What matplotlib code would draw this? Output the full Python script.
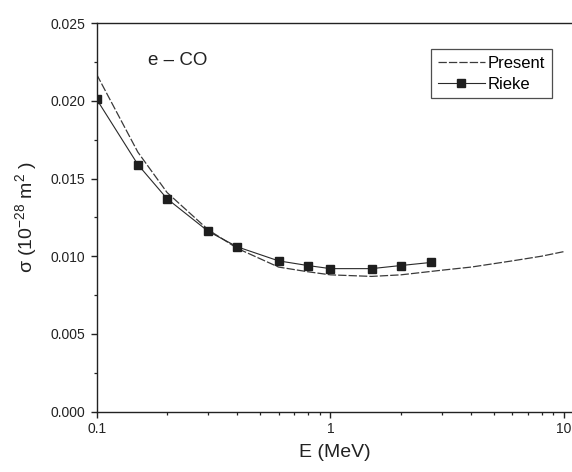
import matplotlib
matplotlib.use("Agg")
import matplotlib.pyplot as plt
from matplotlib.ticker import MultipleLocator, LogLocator, NullFormatter, FixedLocator, FixedFormatter

plt.rcParams['font.family'] = ['Liberation Sans', 'DejaVu Sans']
plt.rcParams['lines.scale_dashes'] = False
plt.rcParams['mathtext.fontset'] = 'custom'
plt.rcParams['mathtext.rm'] = 'Liberation Sans'

# Present (calcul)
energie_present = [0.1, 0.15, 0.2, 0.3, 0.4, 0.6, 0.8, 1.0, 1.5, 2.0, 3.0, 4.0, 6.0, 8.0, 10.0]
sigma_present = [0.0217, 0.0167, 0.0141, 0.0117, 0.0105, 0.0093, 0.0090, 0.0088, 0.0087,
                 0.0088, 0.0091, 0.0093, 0.0097, 0.0100, 0.0103]

# Rieke (donnees)
energie_rieke = [0.1, 0.15, 0.2, 0.3, 0.4, 0.6, 0.8, 1.0, 1.5, 2.0, 2.7]
sigma_rieke = [0.0201, 0.0159, 0.0137, 0.0116, 0.0106, 0.0097, 0.0094, 0.0092, 0.0092,
               0.0094, 0.0096]

x_ticks = [0.1, 1, 10]
x_tick_labels = ['0.1', '1', '10']

fig = plt.figure(figsize=(5.72, 4.72), dpi=100)
ax = fig.add_axes([0.169, 0.128, 0.831, 0.823])

ax.plot(energie_present, sigma_present, color='#3a3a3a', lw=0.9,
        dashes=(6, 1.5), label='Present')
ax.plot(energie_rieke, sigma_rieke, color='#2a2a2a', lw=0.8, marker='s',
        markersize=5.3, markerfacecolor='#1e1e1e', markeredgecolor='#1e1e1e',
        label='Rieke')

ax.set_xscale('log')
ax.set_xlim(0.1, 10.8)
ax.set_ylim(0.0, 0.025)

ax.xaxis.set_major_locator(FixedLocator(x_ticks))
ax.xaxis.set_major_formatter(FixedFormatter(x_tick_labels))
ax.xaxis.set_minor_locator(LogLocator(base=10, subs=range(2, 10)))
ax.xaxis.set_minor_formatter(NullFormatter())
ax.yaxis.set_major_locator(MultipleLocator(0.005))
ax.yaxis.set_minor_locator(MultipleLocator(0.0025))
ax.yaxis.set_major_formatter(matplotlib.ticker.FormatStrFormatter('%.3f'))

ax.spines['right'].set_visible(False)
for s in ['left', 'bottom', 'top']:
    ax.spines[s].set_linewidth(1.0)
    ax.spines[s].set_color('#222222')

ax.tick_params(which='major', direction='out', length=4.5, width=1.0,
               labelsize=10, colors='#222222', top=False, right=False)
ax.tick_params(which='minor', direction='out', length=2.5, width=0.9,
               colors='#222222', top=False, right=False)
ax.tick_params(axis='x', which='major', pad=3)

ax.set_xlabel('E (MeV)', fontsize=14, color='#222222', labelpad=6)
ax.set_ylabel('\u03c3 (10$^{\\mathrm{-28}}$ m$^{\\mathrm{2}}$ )', fontsize=14,
              color='#222222', labelpad=8)

ax.text(0.165, 0.0226, 'e \u2013 CO', fontsize=13.5, color='#222222', va='center')

leg = ax.legend(loc='upper right', bbox_to_anchor=(0.958, 0.933), fontsize=12,
                frameon=True, fancybox=False, handlelength=2.8, handletextpad=0.2,
                borderpad=0.4, labelspacing=0.35, borderaxespad=0.0)
leg.get_frame().set_edgecolor('#222222')
leg.get_frame().set_linewidth(0.9)

fig.savefig('out.png', dpi=100)
